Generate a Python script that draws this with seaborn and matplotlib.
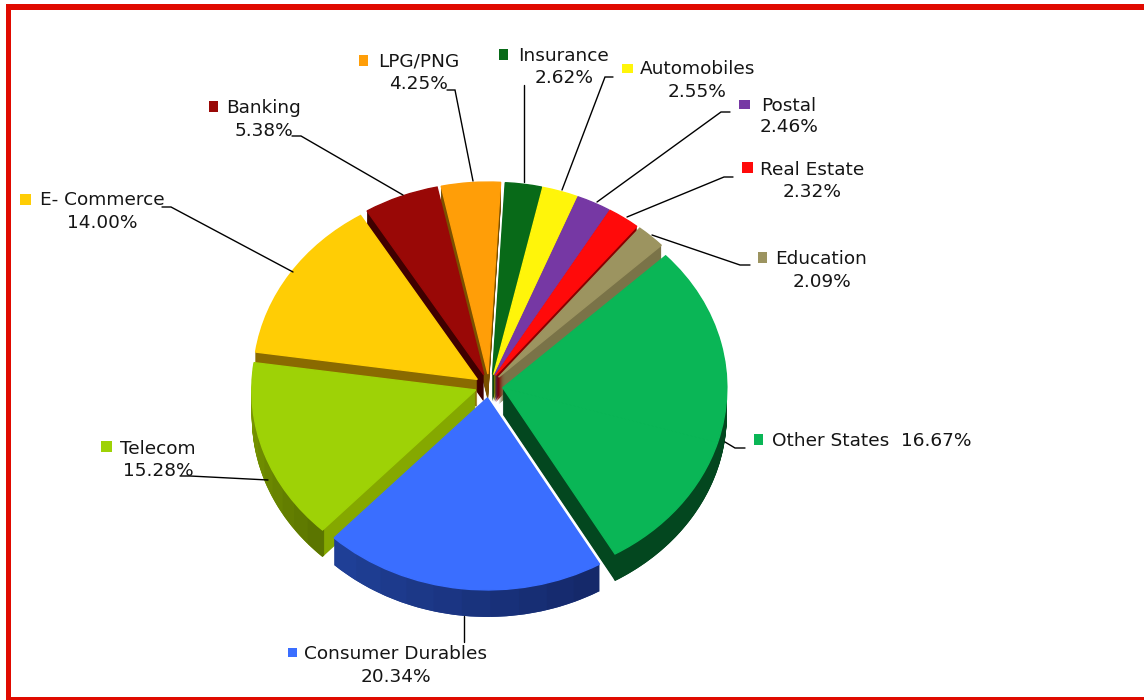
import numpy as np
import matplotlib
matplotlib.use("Agg")
import matplotlib.pyplot as plt
from matplotlib.patches import Rectangle
import seaborn as sns

sns.set_theme(style="white")
plt.rcParams["font.family"] = ["DejaVu Sans"]

# Sector shares, clockwise from the upper right. The green sector is wider than
# its printed 16.67%, so the rest of it is held in a second, unlabelled entry.
sectors = ["Other States", "Other States (rest)", "Consumer Durables", "Telecom",
           "E- Commerce", "Banking", "LPG/PNG", "Insurance", "Automobiles",
           "Postal", "Real Estate", "Education"]
shares = [16.67, 12.04, 20.34, 15.28, 14.00, 5.38, 4.25, 2.62, 2.55, 2.46, 2.32, 2.09]
top_hex = ["#0ab656", "#0ab656", "#3a6eff", "#9ed206", "#ffcd05", "#990806",
           "#ff9e08", "#086a18", "#fff50a", "#7638a4", "#ff0a0a", "#9c9460"]
wall_hex = ["#03471f", "#03471f", "#1c3a8c", "#85a800", "#8a6a00", "#3f0000",
            "#7a5000", "#033f0c", "#808000", "#3c1c52", "#880000", "#7a7348"]
# Outer rim shading, first and last colour going clockwise along each sector.
rim_start = ["#03471f", "#03471f", "#15296a", "#5b7500", "#8a6a00", "#3f0000",
             "#7a5000", "#033f0c", "#808000", "#3c1c52", "#880000", "#7a7348"]
rim_end = ["#03471f", "#03471f", "#1f3f96", "#7f9e00", "#8a6a00", "#3f0000",
           "#7a5000", "#033f0c", "#808000", "#3c1c52", "#880000", "#7a7348"]

top_colors = sns.color_palette(top_hex)
wall_colors = sns.color_palette(wall_hex)

W, H = 1144, 700
CX, CY, RX, RY = 489, 386, 224, 192
DEPTH = 27
EXPLODE = 0.0625
START = 43.4
RIM_STEPS = 10

fig = plt.figure(figsize=(W / 100, H / 100), dpi=100, facecolor="white")
ax = fig.add_axes([0, 0, 1, 1])

# Offsets push each sector outward. The two green entries move as one piece,
# and the four narrow sectors from Insurance to Real Estate stay close together.
angles = START - np.cumsum([0] + shares) * 3.6
mids = (angles[:-1] + angles[1:]) / 2
mids[0] = mids[1] = (angles[0] + angles[2]) / 2
mids[7:11] = (mids[7:11] + (angles[7] + angles[11]) / 2) / 2


def draw_layer(drop, values, colors, owners, zorders, **wedge_kw):
    wedges, _ = ax.pie(values, colors=colors, startangle=START, counterclock=False,
                       center=(0, -drop), radius=1, wedgeprops=wedge_kw)
    for w, i in zip(wedges, owners):
        cx, cy = w.center
        w.set_center((cx + EXPLODE * np.cos(np.radians(mids[i])),
                      cy + EXPLODE * np.sin(np.radians(mids[i]))))
        w.set_zorder(zorders[i])
    return wedges


n = len(shares)
owners_all = list(range(n))
order = np.argsort(np.argsort(-np.sin(np.radians(mids)))).astype(float)

# The rim is split finely so its colour can drift along the arc.
rim_values = [s / RIM_STEPS for s in shares for _ in range(RIM_STEPS)]
rim_owners = [i for i in range(n) for _ in range(RIM_STEPS)]
rim_colors = [c for a, b in zip(rim_start, rim_end)
              for c in sns.blend_palette([a, b], RIM_STEPS)]

for k in range(DEPTH, 0, -1):
    drop = k / RY
    draw_layer(drop, shares, wall_colors, owners_all, 1 + order, linewidth=0)
    draw_layer(drop, rim_values, rim_colors, rim_owners, 1.5 + order,
               linewidth=0, width=0.012)

tops = draw_layer(0, shares, top_colors, owners_all, [100] * n, linewidth=1.0)
for w, c in zip(tops, top_colors):
    w.set_edgecolor(c)

ax.set_aspect("auto")
ax.set_xlim(-CX / RX, (W - CX) / RX)
ax.set_ylim((CY - H) / RY, CY / RY)
ax.axis("off")

# Annotation layer measured in figure pixels.
ann = fig.add_axes([0, 0, 1, 1], facecolor="none")
ann.set_xlim(0, W)
ann.set_ylim(H, 0)
ann.axis("off")

FRAME = "#e00a00"
for x, y, w, h in [(6, 4, W - 6, 6), (6, 4, 5, H - 4), (6, 697, W - 6, 3)]:
    ann.add_patch(Rectangle((x, y), w, h, facecolor=FRAME, edgecolor="none", zorder=5))

callouts = [
    ("Banking", "5.38%", "#990806", (209, 101, 9, 11), (264, 108), (264, 131),
     [(292, 136), (301, 136), (403, 195)]),
    ("E- Commerce", "14.00%", "#ffcd05", (20, 194, 11, 11), (102, 200), (102, 223),
     [(162, 207), (171, 207), (293, 272)]),
    ("LPG/PNG", "4.25%", "#ff9e08", (359, 55, 9, 11), (419, 62), (418, 84),
     [(447, 90), (455, 90), (473, 181)]),
    ("Insurance", "2.62%", "#086a18", (499, 49, 9, 11), (564, 56), (564, 78),
     [(524, 85), (524, 182)]),
    ("Automobiles", "2.55%", "#fff50a", (622, 64, 11, 9), (698, 69), (697, 92),
     [(613, 77), (605, 77), (562, 190)]),
    ("Postal", "2.46%", "#7638a4", (739, 100, 11, 9), (789, 106), (789, 127),
     [(730, 112), (721, 112), (597, 202)]),
    ("Real Estate", "2.32%", "#ff0a0a", (742, 162, 11, 11), (812, 170), (812, 192),
     [(733, 177), (724, 177), (627, 217)]),
    ("Education", "2.09%", "#9c9460", (758, 252, 9, 11), (821, 259), (822, 282),
     [(750, 265), (740, 265), (652, 235)]),
    ("Other States  16.67%", None, "#0ab656", (754, 434, 9, 11), (872, 441), None,
     [(745, 448), (735, 448), (725, 442)]),
    ("Telecom", "15.28%", "#9ed206", (101, 441, 11, 11), (158, 449), (158, 471),
     [(180, 476), (190, 476), (268, 480)]),
    ("Consumer Durables", "20.34%", "#3a6eff", (288, 648, 9, 9), (395, 654), (396, 677),
     [(464, 642), (464, 616)]),
]

for name, value, color, box, name_xy, value_xy, path in callouts:
    ann.add_patch(Rectangle(box[:2], box[2], box[3], facecolor=color, edgecolor="none"))
    ann.text(*name_xy, name, ha="center", va="center", fontsize=13.3, color="#151515")
    if value:
        ann.text(*value_xy, value, ha="center", va="center", fontsize=13.3, color="#151515")
    xs, ys = zip(*path)
    ann.plot(xs, ys, color="black", lw=1.0, solid_joinstyle="miter")

fig.savefig("out.png", dpi=100, facecolor="white")
